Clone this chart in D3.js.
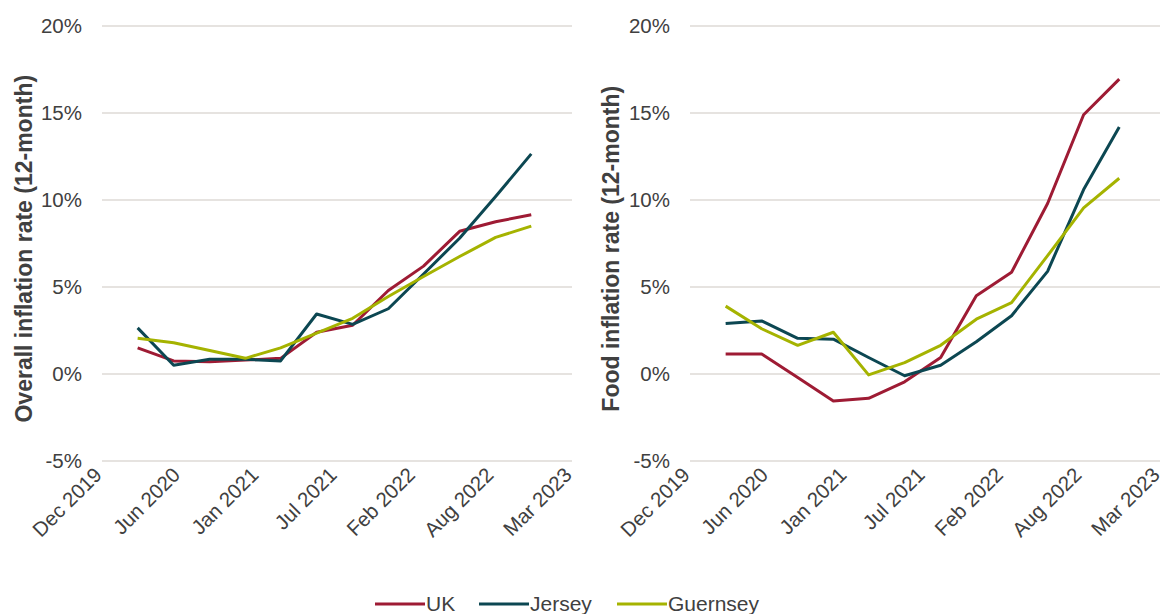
<!DOCTYPE html>
<html>
<head>
<meta charset="utf-8">
<script src="https://cdn.jsdelivr.net/npm/d3@7"></script>
<style>
  body { margin: 0; background: #fff; }
  text { font-family: "Liberation Sans", Arial, sans-serif; fill: #404040; }
</style>
</head>
<body>
<svg id="chart" width="1166" height="614"></svg>
<script>
// quarterly observations, Mar 2020 .. Dec 2022
var dates = ["2020-03-01","2020-06-01","2020-09-01","2020-12-01",
             "2021-03-01","2021-06-01","2021-09-01","2021-12-01",
             "2022-03-01","2022-06-01","2022-09-01","2022-12-01"];

var seriesNames = ["UK", "Jersey", "Guernsey"];
var colors = ["#9e1b34", "#0c4752", "#a5b300"];

// overall inflation (12-month, %)
var overallUK       = [1.5, 0.75, 0.7, 0.8, 0.9, 2.4, 2.8, 4.8, 6.2, 8.2, 8.75, 9.15];
var overallJersey   = [2.65, 0.5, 0.85, 0.85, 0.75, 3.45, 2.85, 3.75, 5.75, 7.8, 10.2, 12.65];
var overallGuernsey = [2.05, 1.8, 1.35, 0.9, 1.5, 2.35, 3.2, 4.45, 5.6, 6.75, 7.85, 8.5];

// food inflation (12-month, %)
var foodUK       = [1.15, 1.15, -0.2, -1.55, -1.4, -0.45, 0.95, 4.5, 5.85, 9.8, 14.9, 16.95];
var foodJersey   = [2.9, 3.05, 2.05, 2.0, 0.95, -0.1, 0.5, 1.85, 3.35, 5.9, 10.6, 14.2];
var foodGuernsey = [3.9, 2.6, 1.65, 2.4, -0.05, 0.65, 1.65, 3.15, 4.1, 6.8, 9.55, 11.25];

var yTicks = [-5, 0, 5, 10, 15, 20];

var parse = d3.timeParse("%Y-%m-%d");
var xStart = parse("2019-12-01");
var xEnd = d3.timeDay.offset(xStart, 1200);
var xTicks = d3.range(0, 7).map(function(i) { return d3.timeDay.offset(xStart, i * 200); });
var fmt = d3.timeFormat("%b %Y");

var svg = d3.select("#chart");

var y = d3.scaleLinear().domain([-5, 20]).range([461, 26]);

var panels = [
  { left: 102, title: "Overall inflation rate (12-month)", titleX: 24,
    data: [overallUK, overallJersey, overallGuernsey] },
  { left: 690, title: "Food inflation rate (12-month)", titleX: 611,
    data: [foodUK, foodJersey, foodGuernsey] }
];

panels.forEach(function(p) {
  var x = d3.scaleTime().domain([xStart, xEnd]).range([p.left, p.left + 470]);
  var g = svg.append("g");

  // gridlines
  g.selectAll(".grid")
      .data(yTicks)
    .enter().append("line")
      .attr("x1", x.range()[0])
      .attr("x2", x.range()[1])
      .attr("y1", function(d) { return y(d); })
      .attr("y2", function(d) { return y(d); })
      .attr("stroke", "#dedad6")
      .attr("stroke-width", 1.5);

  // y labels
  g.selectAll(".ylab")
      .data(yTicks)
    .enter().append("text")
      .attr("x", p.left - 20)
      .attr("y", function(d) { return y(d); })
      .attr("dy", ".35em")
      .attr("text-anchor", "end")
      .style("font-size", "20.5px")
      .text(function(d) { return d + "%"; });

  // x labels, rotated
  g.selectAll(".xlab")
      .data(xTicks)
    .enter().append("text")
      .attr("transform", function(d) { return "translate(" + (x(d) - 4) + ",471) rotate(-45)"; })
      .attr("text-anchor", "end")
      .attr("dy", ".35em")
      .style("font-size", "20.5px")
      .text(function(d) { return fmt(d); });

  // axis title
  g.append("text")
      .attr("transform", "translate(" + p.titleX + "," + y(7.2) + ") rotate(-90)")
      .attr("text-anchor", "middle")
      .attr("dy", ".35em")
      .style("font-size", "23px")
      .style("font-weight", "bold")
      .text(p.title);

  var line = d3.line()
      .x(function(d, i) { return x(parse(dates[i])); })
      .y(function(d) { return y(d); });

  g.selectAll(".series")
      .data(p.data)
    .enter().append("path")
      .attr("d", line)
      .attr("fill", "none")
      .attr("stroke", function(d, i) { return colors[i]; })
      .attr("stroke-width", 3)
      .attr("stroke-linejoin", "round");
});

// legend
var legendX = [375, 479, 617];
var legend = svg.selectAll(".legend")
    .data(seriesNames)
  .enter().append("g")
    .attr("transform", function(d, i) { return "translate(" + legendX[i] + ",604)"; });

legend.append("line")
    .attr("x1", 0).attr("x2", 50)
    .attr("stroke", function(d, i) { return colors[i]; })
    .attr("stroke-width", 3);

legend.append("text")
    .attr("x", 51)
    .attr("dy", ".35em")
    .style("font-size", "21px")
    .text(function(d) { return d; });
</script>
</body>
</html>
